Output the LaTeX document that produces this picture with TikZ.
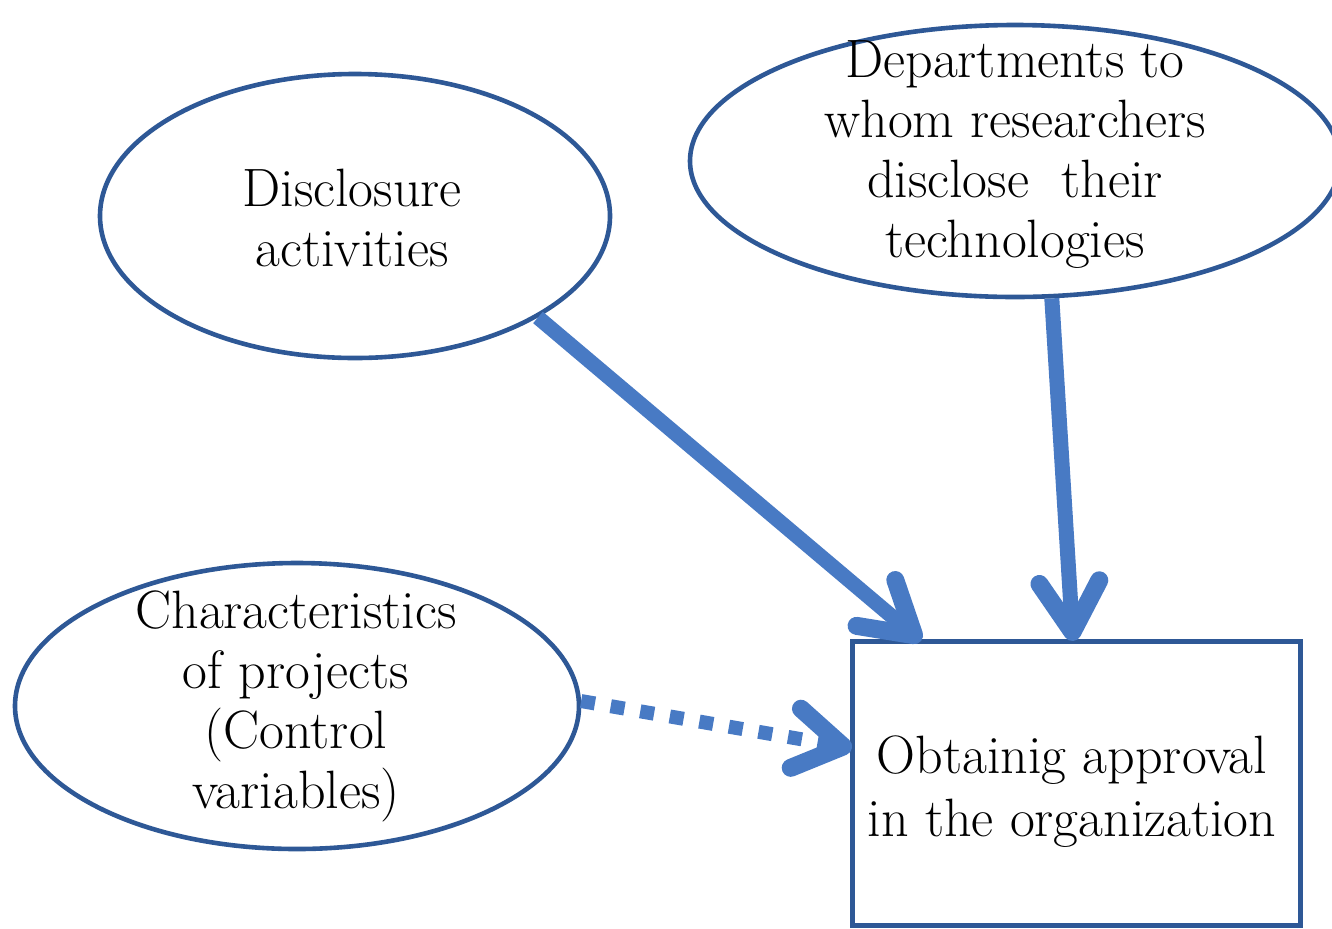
\documentclass[tikz,border=0pt]{standalone}
\usetikzlibrary{arrows.meta,shapes.geometric}
\definecolor{arrowblue}{RGB}{72,122,196}
\definecolor{borderblue}{RGB}{46,88,150}
\begin{document}
\begin{tikzpicture}[x=0.5pt,y=-0.5pt,
  ell/.style={ellipse,draw=borderblue,line width=2.3pt,fill=white,inner sep=0pt},
  boxnode/.style={rectangle,draw=borderblue,line width=2.5pt,fill=white,inner sep=0pt},
  txt/.style={align=center,font=\fontsize{27}{30}\selectfont,inner sep=0pt},
  arr/.style={draw=arrowblue,line width=7.5pt,-{Straight Barb[length=25pt,width=30pt,round,line width=9pt]}},
  dotarr/.style={draw=arrowblue,line width=7pt,dash pattern=on 7pt off 8pt,-{Straight Barb[length=24pt,width=30pt,round,line width=9pt]}}]
\useasboundingbox (0,0) rectangle (1332,928);
\node[ell,minimum width=255pt,minimum height=142pt] (e1) at (355,216) {};
\node[ell,minimum width=325pt,minimum height=136pt] (e2) at (1015,161) {};
\node[ell,minimum width=282pt,minimum height=143pt] (e3) at (297,706) {};
\node[boxnode,minimum width=224pt,minimum height=142pt] (box) at (1076,783) {};
\node[txt] (l1) at (352,218) {Disclosure\\activities};
\node[txt] (l2) at (1015,155) {Departments to\\whom researchers\\disclose\ \ their\\technologies};
\node[txt] (l3) at (296,706) {Characteristics\\of projects\\(Control\\variables)};
\node[txt,font=\fontsize{27}{31.5}\selectfont] (l4) at (1072,792) {Obtainig approval\\in the organization};
\coordinate (t1) at (921,641);
\coordinate (t2) at (1073,641);
\coordinate (t3) at (852,748);
\draw[arr] (e1.-29) -- (t1);
\draw[arr] (e2.-75) -- (t2);
\draw[dotarr] (e3.1) -- (t3);
\end{tikzpicture}
\end{document}
